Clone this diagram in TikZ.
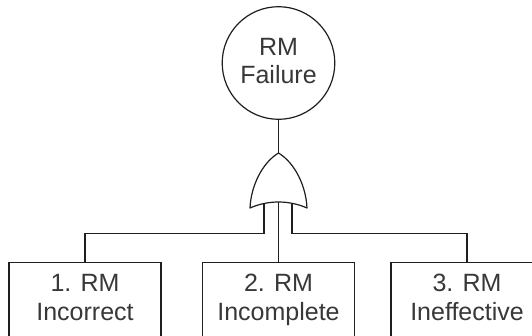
\documentclass[tikz,border=0pt]{standalone}
\usepackage{fontspec}
\setmainfont{Liberation Sans}
\begin{document}
\begin{tikzpicture}[x=1pt,y=-1pt,
  wire/.style={draw=black!88, line width=1.2pt},
  topevent/.style={circle, draw=black!88, line width=1.2pt, fill=white,
    minimum size=112.6pt, inner sep=0pt, align=center, text=black!78,
    font=\fontsize{25}{28}\selectfont, text depth=5pt},
  basicevent/.style={rectangle, draw=black!88, line width=1.2pt, fill=white,
    minimum width=152pt, anchor=north, inner xsep=0pt, inner ysep=11.8pt,
    align=center, text=black!78, font=\fontsize{25}{28.5}\selectfont,
    text depth=30pt},
  orgate/.style={draw=black!88, line width=1.2pt, fill=white, line join=round}]
\useasboundingbox (0,0) rectangle (532,335);
\clip (0,0) rectangle (532,335);

% top event
\node[topevent] (top) at (278.5,63) {RM\\Failure};

% basic events (their lower parts run past the bottom edge)
\node[basicevent] (e1) at (85,262)  {1. RM\\Incorrect};
\node[basicevent] (e2) at (278.5,262) {2. RM\\Incomplete};
\node[basicevent] (e3) at (467,262) {3. RM\\Ineffective};

% OR gate anchor points
\coordinate (gtip) at (278.5,153);
\coordinate (gl) at (264,200);
\coordinate (gm) at (278.5,200);
\coordinate (gr) at (292,200);

% connectors
\draw[wire] (top.south) -- (gtip);
\draw[wire] (gl) |- (85,233.3) -- (e1.north);
\draw[wire] (gm) -- (e2.north);
\draw[wire] (gr) |- (467,233.3) -- (e3.north);

% OR gate body
\draw[orgate] (gtip) .. controls (262,163) and (251,186) .. (250,208)
  .. controls (268,200) and (289,200) .. (307,208)
  .. controls (306,186) and (295,163) .. (gtip) -- cycle;
\end{tikzpicture}
\end{document}
